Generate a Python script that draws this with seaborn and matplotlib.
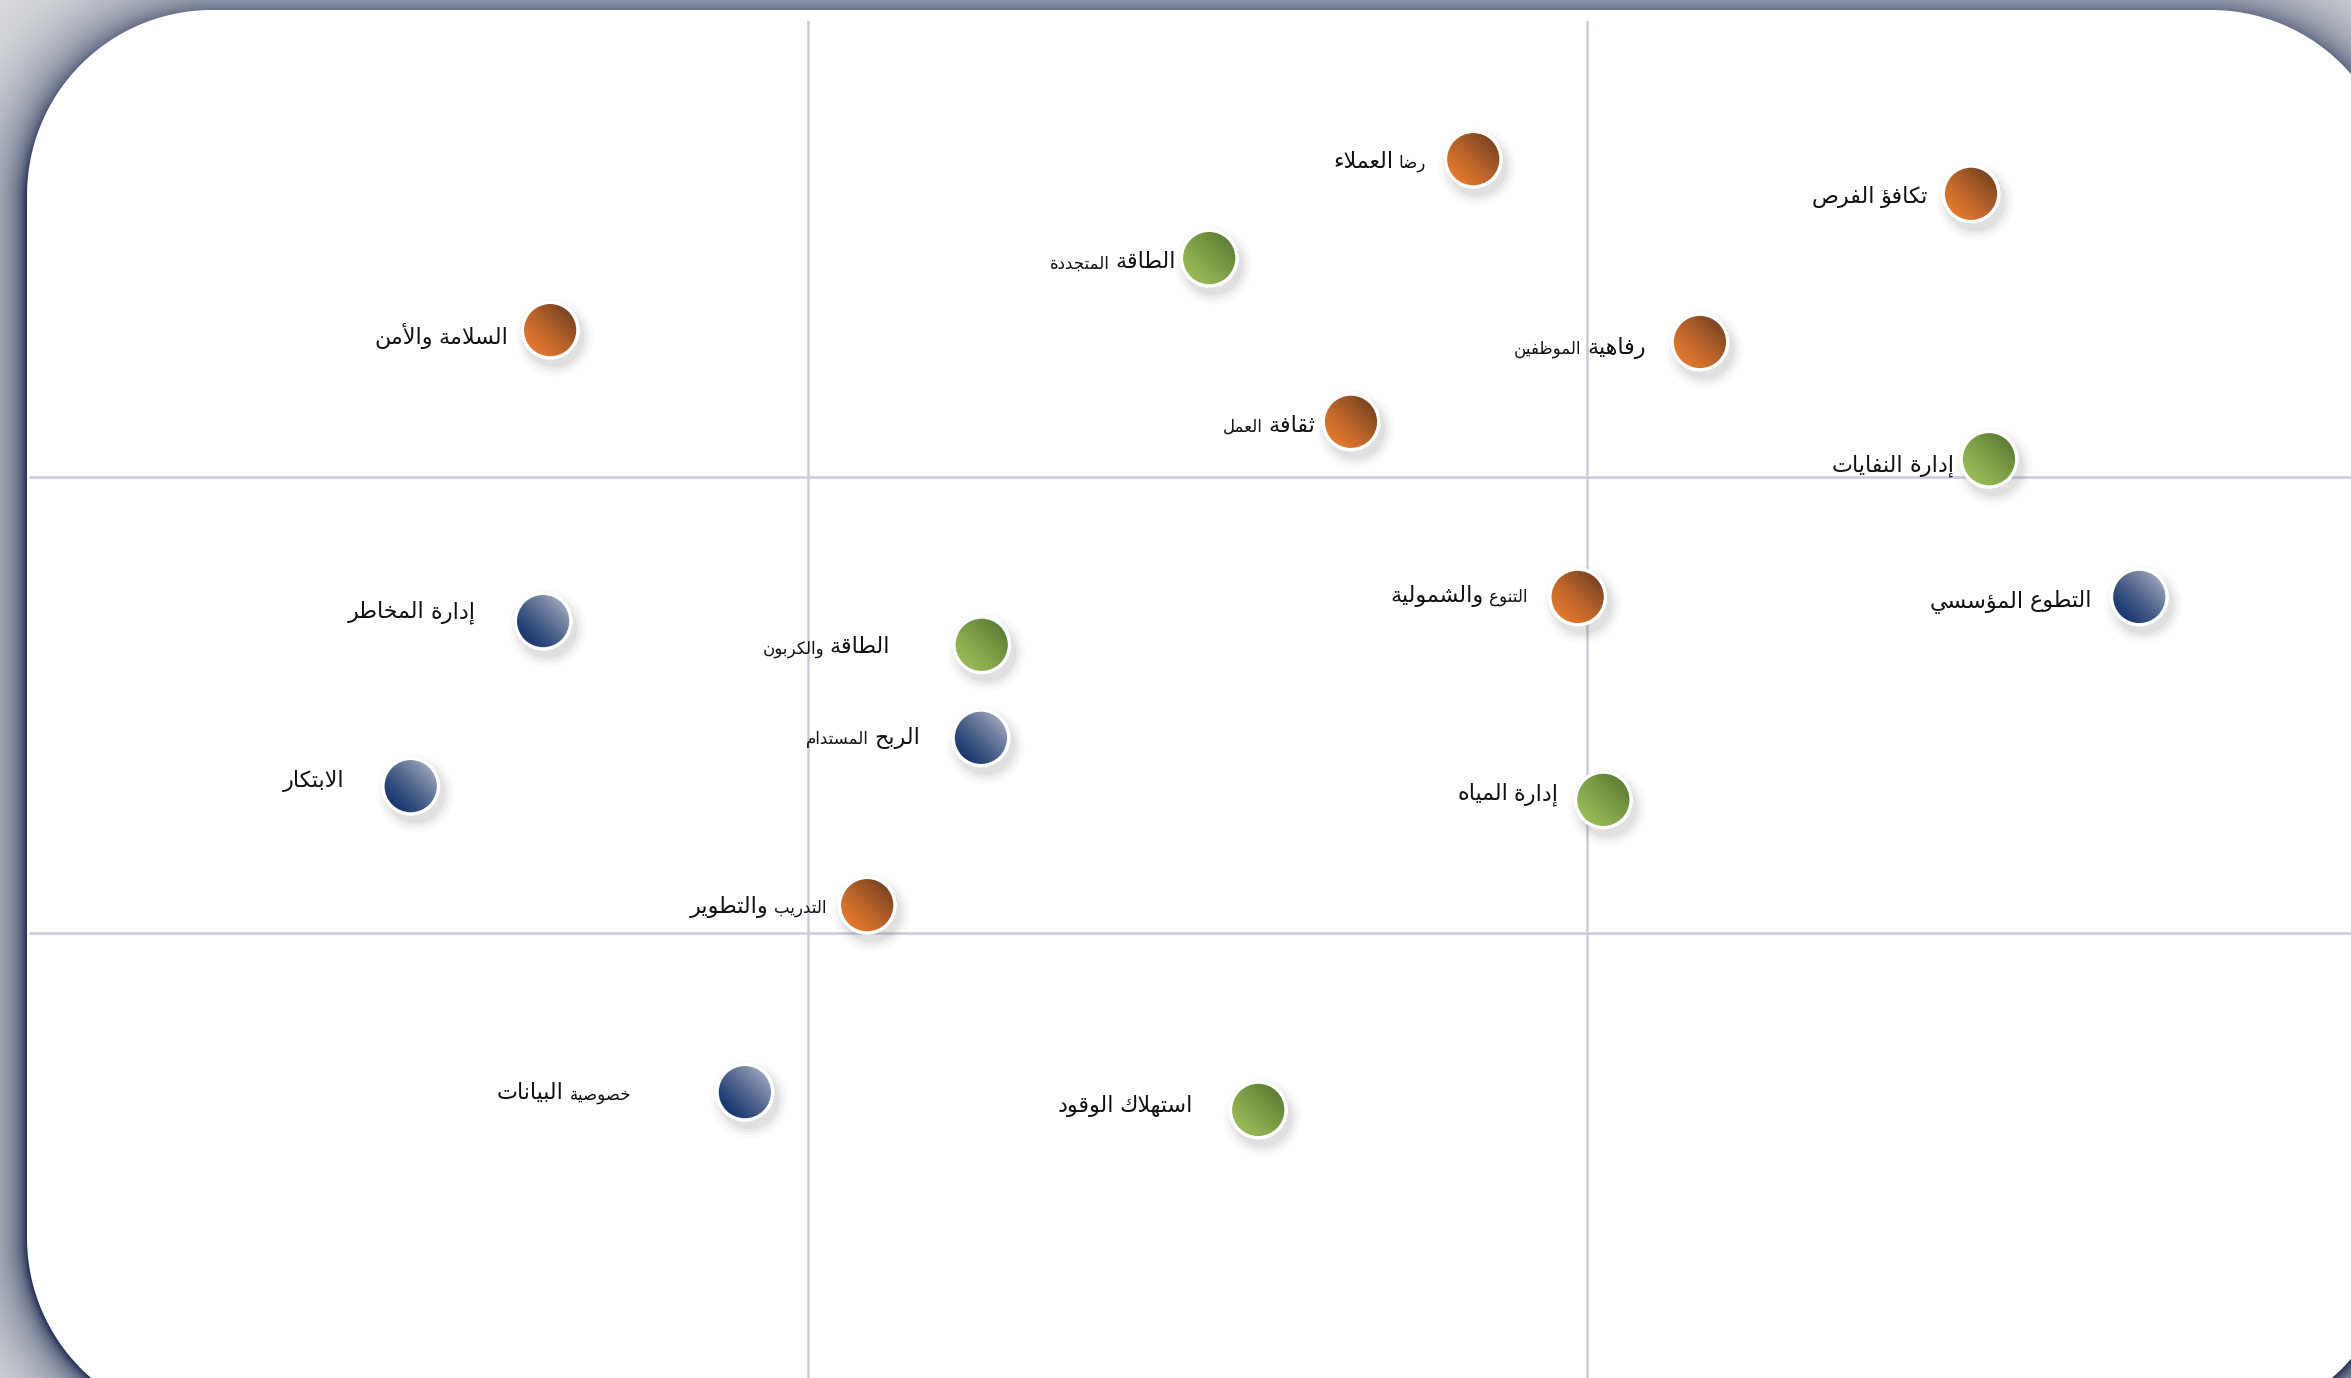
import matplotlib
matplotlib.use("Agg")
import matplotlib.pyplot as plt
import numpy as np
import pandas as pd
import seaborn as sns
from matplotlib import transforms
from matplotlib.colors import to_rgb
from matplotlib.offsetbox import AnnotationBbox, HPacker, TextArea
from matplotlib.patches import Ellipse

W, H = 2351, 1378

# --- dados ---
topics = [
    "رضا العملاء", "تكافؤ الفرص", "السلامة والأمن", "رفاهية الموظفين",
    "ثقافة العمل", "التنوع والشمولية", "التدريب والتطوير",
    "الطاقة المتجددة", "إدارة النفايات", "الطاقة والكربون", "إدارة المياه",
    "استهلاك الوقود",
    "إدارة المخاطر", "التطوع المؤسسي", "الربح المستدام", "الابتكار",
    "خصوصية البيانات",
]
x_vals = [1.854, 2.493, 0.669, 2.145, 1.697, 1.988, 1.076,
          1.515, 2.516, 1.223, 2.021, 1.578,
          0.660, 2.709, 1.222, 0.490, 0.919]
y_vals = [2.697, 2.621, 2.322, 2.296, 2.121, 1.737, 1.061,
          2.480, 2.039, 1.632, 1.292, 0.612,
          1.684, 1.737, 1.428, 1.322, 0.651]
groups = ["social"] * 7 + ["environment"] * 5 + ["governance"] * 5

df = pd.DataFrame({"topic": topics, "x": x_vals, "y": y_vals, "group": groups})

# --- estilo ---
# cor clara/escura do gradiente (canto inferior esquerdo -> superior direito)
GRADIENTS = {
    "social": ("#EF7E30", "#593420"),
    "environment": ("#9EC05A", "#4A6A2A"),
    "governance": ("#0A2B66", "#C2C4CF"),
}
# palavra em fonte menor em cada rótulo (índice na ordem de leitura)
SMALL_WORD = [0, None, None, 1, 1, 0, 0, 1, None, 1, None, None, None, None, 1, None, 0]
# distância do rótulo ao centro do ponto (pt) e deslocamento vertical (pt, p/ baixo)
LABEL_GAP = [34, 31, 30, 39, 26, 36, 29, 24, 25, 66, 32, 47, 49, 34, 44, 48, 82]
LABEL_DY = [2, 2, 4, 4, 3, -1, 1, 3, 5, 2, -4, -3, -6, 3, 0, -4, 1]

# --- forma contextual do árabe (matplotlib não faz shaping) ---
FORMS = {
    "\u0621": (0xFE80, 1), "\u0622": (0xFE81, 2), "\u0623": (0xFE83, 2),
    "\u0624": (0xFE85, 2), "\u0625": (0xFE87, 2), "\u0626": (0xFE89, 4),
    "\u0627": (0xFE8D, 2), "\u0628": (0xFE8F, 4), "\u0629": (0xFE93, 2),
    "\u062A": (0xFE95, 4), "\u062B": (0xFE99, 4), "\u062C": (0xFE9D, 4),
    "\u062D": (0xFEA1, 4), "\u062E": (0xFEA5, 4), "\u062F": (0xFEA9, 2),
    "\u0630": (0xFEAB, 2), "\u0631": (0xFEAD, 2), "\u0632": (0xFEAF, 2),
    "\u0633": (0xFEB1, 4), "\u0634": (0xFEB5, 4), "\u0635": (0xFEB9, 4),
    "\u0636": (0xFEBD, 4), "\u0637": (0xFEC1, 4), "\u0638": (0xFEC5, 4),
    "\u0639": (0xFEC9, 4), "\u063A": (0xFECD, 4), "\u0641": (0xFED1, 4),
    "\u0642": (0xFED5, 4), "\u0643": (0xFED9, 4), "\u0644": (0xFEDD, 4),
    "\u0645": (0xFEE1, 4), "\u0646": (0xFEE5, 4), "\u0647": (0xFEE9, 4),
    "\u0648": (0xFEED, 2), "\u0649": (0xFEEF, 2), "\u064A": (0xFEF1, 4),
}
LAM_ALEF = {"\u0622": 0xFEF5, "\u0623": 0xFEF7, "\u0625": 0xFEF9, "\u0627": 0xFEFB}


def shape_ar(text):
    items = []
    i = 0
    while i < len(text):
        c = text[i]
        if c == "\u0644" and i + 1 < len(text) and text[i + 1] in LAM_ALEF:
            items.append((c, LAM_ALEF[text[i + 1]]))
            i += 2
        else:
            items.append((c, None))
            i += 1

    def jtype(item):
        c, lig = item
        if lig:
            return "R"
        if c in FORMS:
            return {1: "U", 2: "R", 4: "D"}[FORMS[c][1]]
        return "U"

    out = []
    for k, item in enumerate(items):
        c, lig = item
        prev_j = k > 0 and jtype(items[k - 1]) == "D"
        next_j = k + 1 < len(items) and jtype(items[k + 1]) in ("D", "R")
        if lig:
            out.append(chr(lig + (1 if prev_j else 0)))
        elif c not in FORMS:
            out.append(c)
        else:
            base, n = FORMS[c]
            if n == 1:
                out.append(chr(base))
            elif n == 2:
                out.append(chr(base + (1 if prev_j else 0)))
            elif prev_j and next_j:
                out.append(chr(base + 3))
            elif prev_j:
                out.append(chr(base + 1))
            elif next_j:
                out.append(chr(base + 2))
            else:
                out.append(chr(base))
    return "".join(out)[::-1]


def rounded_rect_dist(xx, yy, left, top, right, bottom, r):
    cx, cy = (left + right) / 2, (top + bottom) / 2
    qx = np.abs(xx - cx) - ((right - left) / 2 - r)
    qy = np.abs(yy - cy) - ((bottom - top) / 2 - r)
    return (np.hypot(np.maximum(qx, 0), np.maximum(qy, 0))
            + np.minimum(np.maximum(qx, qy), 0) - r)


sns.set_theme(style="white")
plt.rcParams["font.family"] = ["DejaVu Sans"]

fig = plt.figure(figsize=(W / 100, H / 100), dpi=100)

# fundo: painel branco arredondado com sombra azul-marinho
bg = fig.add_axes([0, 0, 1, 1])
bg.axis("off")
bg.set_zorder(0)
yy, xx = np.mgrid[0:H, 0:W] + 0.5
panel_d = rounded_rect_dist(xx, yy, 27, 10, W + 45, H + 45, 185)
shadow_d = np.maximum(rounded_rect_dist(xx, yy, 27, 19, W + 45, H + 45, 185), 0)
opac = 0.35 * np.exp(-shadow_d / 7) + 0.6 * np.exp(-shadow_d / 45)
navy = np.array(to_rgb("#16214a"))
grey = np.array(to_rgb("#e4e6e6"))
shade = grey * (1 - opac[..., None]) + navy * opac[..., None]
w_in = np.clip(0.5 - panel_d, 0, 1)[..., None]
frame = shade * (1 - w_in) + np.ones(3) * w_in
bg.imshow(frame, extent=[0, W, 0, H], origin="upper", aspect="auto",
          interpolation="nearest")
bg.set_xlim(0, W)
bg.set_ylim(0, H)

# eixo principal
ax = fig.add_axes([29 / W, -11 / H, 2337 / W, 1368 / H])
ax.set_zorder(1)
ax.patch.set_alpha(0)
ax.set_xlim(0, 3)
ax.set_ylim(0, 3)
ax.axis("off")

for v in [1, 2]:
    ax.axvline(v, color="#c9cdd9", lw=1.8, zorder=1)
    ax.axhline(v, color="#c9cdd9", lw=1.8, zorder=1)

# sombra suave dos marcadores
shadow_tr = transforms.offset_copy(ax.transData, fig=fig, x=4, y=-7, units="dots")
for grow, a in [(16, 0.025), (11, 0.035), (7, 0.045), (3, 0.06)]:
    ax.scatter(df["x"], df["y"], s=(40 + grow) ** 2, color="#404040", alpha=a,
               lw=0, transform=shadow_tr, zorder=2)

mid_palette = {g: tuple((np.array(to_rgb(c0)) + np.array(to_rgb(c1))) / 2)
               for g, (c0, c1) in GRADIENTS.items()}
sns.scatterplot(data=df, x="x", y="y", hue="group", palette=mid_palette,
                s=1600, edgecolor="white", linewidth=2.2, legend=False,
                ax=ax, zorder=3)

# gradiente diagonal dentro de cada círculo
r_px = 20 * fig.dpi / 72
dx = r_px / (ax.bbox.width / 3)
dy = r_px / (ax.bbox.height / 3)
u = np.linspace(0, 1, 64)
uu, vv = np.meshgrid(u, u)
t = np.clip((uu + vv) / 2, 0, 1) ** 1.4
for _, row in df.iterrows():
    c0, c1 = (np.array(to_rgb(c)) for c in GRADIENTS[row["group"]])
    img = c0[None, None, :] * (1 - t[..., None]) + c1[None, None, :] * t[..., None]
    im = ax.imshow(img, origin="lower", aspect="auto", interpolation="bilinear",
                   extent=[row["x"] - dx, row["x"] + dx, row["y"] - dy, row["y"] + dy],
                   zorder=4)
    im.set_clip_path(Ellipse((row["x"], row["y"]), 2 * dx, 2 * dy,
                             transform=ax.transData))

ax.scatter(df["x"], df["y"], s=1600, facecolors="none", edgecolors="white",
           linewidths=2.4, zorder=5)

# rótulos: palavras da direita para a esquerda, algumas em corpo menor
for i, row in df.iterrows():
    words = row["topic"].split(" ")
    areas = []
    for j, w_ in enumerate(words):
        small = SMALL_WORD[i] == j
        areas.append(TextArea(shape_ar(w_), textprops=dict(
            fontsize=12 if small else 16, color="#111111")))
    box = HPacker(children=areas[::-1], align="baseline", pad=0, sep=4)
    ab = AnnotationBbox(box, (row["x"], row["y"]), xycoords="data",
                        xybox=(-LABEL_GAP[i], -LABEL_DY[i]), boxcoords="offset points",
                        box_alignment=(1, 0.5), frameon=False, pad=0, zorder=6)
    ax.add_artist(ab)

ax.set_xlim(0, 3)
ax.set_ylim(0, 3)

fig.savefig("out.png", dpi=100)
